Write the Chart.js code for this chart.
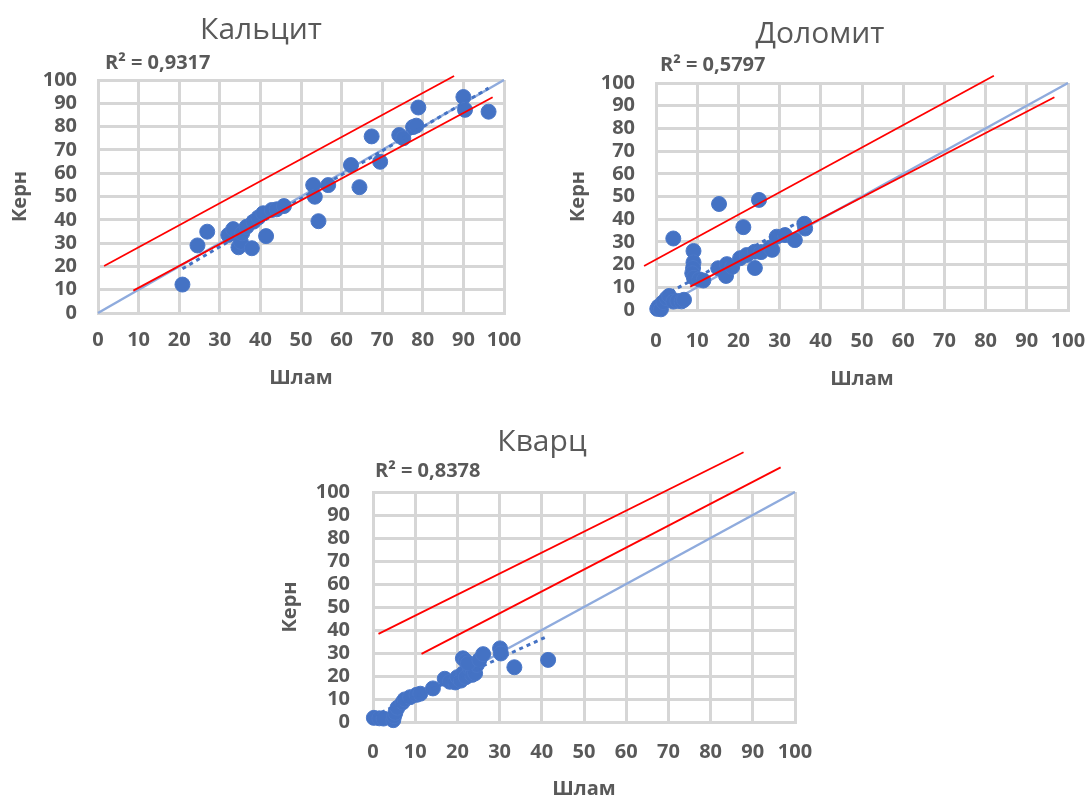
<!DOCTYPE html>
<html lang="ru">
<head>
<meta charset="utf-8">
<title>Керн и шлам: кальцит, доломит, кварц</title>
<script src="https://cdn.jsdelivr.net/npm/chart.js@4.4.1/dist/chart.umd.min.js"></script>
<style>
  html, body { margin: 0; padding: 0; background: #ffffff; width: 1089px; height: 798px; overflow: hidden; }
  canvas.panel { position: absolute; }
</style>
</head>
<body>
<canvas id="calcite" class="panel"></canvas>
<canvas id="dolomite" class="panel"></canvas>
<canvas id="quartz" class="panel"></canvas>
<script>
// ---- Axis ticks (both axes, percent) ----
const tickValues = [0, 10, 20, 30, 40, 50, 60, 70, 80, 90, 100];

// ---- Кальцит ----
const calciteShlam = [20.8, 24.5, 26.9, 32.1, 33.3, 34.6, 35.2, 35.5, 36.6, 37.9, 38.3, 39.5, 40.7, 41.4, 42.8, 44.0, 45.8,
                      53.0, 53.4, 54.3, 56.7, 62.3, 64.4, 67.4, 69.5, 74.2, 75.2, 77.6, 78.4, 78.9, 90.0, 90.4, 96.2];
const calciteKern  = [12.2, 29.0, 34.9, 33.5, 36.0, 28.2, 30.5, 34.2, 37.0, 27.8, 39.2, 41.0, 42.8, 33.0, 44.2, 44.5, 45.9,
                      54.9, 49.9, 39.4, 54.9, 63.5, 54.0, 75.8, 64.9, 76.4, 75.0, 79.8, 80.4, 88.2, 92.7, 87.2, 86.4];
const calciteR2 = 0.9317;
const calciteTrendX = [20.8, 96.2];
const calciteTrendY = [19.0, 96.5];
const calciteUpperX = [1.5, 87.7];
const calciteUpperY = [20.2, 101.7];
const calciteLowerX = [8.7, 97.2];
const calciteLowerY = [9.6, 92.6];

// ---- Доломит ----
const dolomiteShlam = [0.3, 0.6, 1.2, 1.8, 2.6, 3.2, 4.2, 5.2, 6.2, 6.8, 4.2, 9.1, 9.1, 9.0, 8.8, 9.2, 10.5, 11.5,
                       15.3, 25.0, 21.2, 15.1, 17.2, 17.0, 18.5, 20.4, 22.0, 24.0, 24.0, 25.5, 27.7, 28.2, 29.3, 31.3, 33.7, 36.2, 36.0];
const dolomiteKern  = [0.5, 1.5, 0.3, 3.5, 5.2, 6.2, 3.7, 4.0, 3.8, 4.5, 31.5, 26.0, 21.0, 18.5, 16.2, 14.2, 13.5, 13.0,
                       46.7, 48.5, 36.5, 18.4, 20.2, 15.0, 19.0, 22.8, 24.2, 25.7, 18.5, 25.5, 27.5, 26.5, 32.3, 33.0, 30.8, 35.9, 38.0];
const dolomiteR2 = 0.5797;
const dolomiteTrendX = [0.2, 36.2];
const dolomiteTrendY = [4.7, 40.3];
const dolomiteUpperX = [-2.9, 82.0];
const dolomiteUpperY = [19.4, 103.2];
const dolomiteLowerX = [8.3, 96.7];
const dolomiteLowerY = [10.3, 93.7];

// ---- Кварц ----
const quartzShlam = [0.2, 1.5, 2.5, 4.8, 5.0, 5.3, 5.8, 7.0, 7.5, 8.8, 10.3, 11.2, 14.2, 17.0, 18.2, 19.5, 20.0, 20.8, 21.4, 22.0,
                     21.3, 22.0, 23.0, 23.5, 24.2, 24.6, 22.5, 25.2, 26.1, 30.1, 30.3, 33.5, 41.5];
const quartzKern  = [1.8, 1.6, 1.5, 0.8, 2.5, 4.0, 6.2, 8.5, 9.8, 10.8, 11.8, 12.3, 14.6, 18.8, 17.5, 17.2, 19.5, 18.0, 21.2, 19.5,
                     27.7, 26.5, 23.3, 20.5, 21.2, 24.8, 25.5, 27.0, 29.5, 32.0, 29.8, 23.8, 27.0];
const quartzR2 = 0.8378;
const quartzTrendX = [0.2, 41.5];
const quartzTrendY = [2.7, 37.4];
const quartzUpperX = [1.3, 87.8];
const quartzUpperY = [38.3, 117.3];
const quartzLowerX = [11.5, 96.6];
const quartzLowerY = [29.6, 110.7];

// Reference line Керн = Шлам
const identityX = [0, 100];
const identityY = [0, 100];

// ---- Panel placement on the page (pixels) ----
const panels = [
  { id: 'calcite', title: 'Кальцит', r2: calciteR2,
    shlam: calciteShlam, kern: calciteKern,
    trend: [calciteTrendX, calciteTrendY], upper: [calciteUpperX, calciteUpperY], lower: [calciteLowerX, calciteLowerY],
    box: { left: 0, top: 0, width: 522, height: 400 },
    area: { left: 98, top: 80, right: 504, bottom: 313 },
    titleBase: 39, r2Pos: { x: 105, y: 63 },
    yTickPad: 21, yTitlePad: 8, xTickPad: 15, xTitlePad: 10 },
  { id: 'dolomite', title: 'Доломит', r2: dolomiteR2,
    shlam: dolomiteShlam, kern: dolomiteKern,
    trend: [dolomiteTrendX, dolomiteTrendY], upper: [dolomiteUpperX, dolomiteUpperY], lower: [dolomiteLowerX, dolomiteLowerY],
    box: { left: 555, top: 0, width: 530, height: 400 },
    area: { left: 656, top: 83, right: 1068, bottom: 310 },
    titleBase: 43, r2Pos: { x: 660, y: 65 },
    yTickPad: 21, yTitlePad: 11, xTickPad: 19, xTitlePad: 9 },
  { id: 'quartz', title: 'Кварц', r2: quartzR2,
    shlam: quartzShlam, kern: quartzKern,
    trend: [quartzTrendX, quartzTrendY], upper: [quartzUpperX, quartzUpperY], lower: [quartzLowerX, quartzLowerY],
    box: { left: 270, top: 410, width: 544, height: 400 },
    area: { left: 373, top: 492, right: 795, bottom: 722 },
    titleBase: 451, r2Pos: { x: 375, y: 471 },
    yTickPad: 23, yTitlePad: 8, xTickPad: 18, xTitlePad: 9 }
];

const TEXT = '#595959';
const GRID = '#d6d6d6';
const FONT = '"Open Sans", "Liberation Sans", sans-serif';

Chart.defaults.font.family = FONT;
Chart.defaults.color = TEXT;

const toPoints = (xs, ys) => xs.map((x, i) => ({ x: x, y: ys[i] }));
const formatR2 = (v) => 'R² = ' + v.toFixed(4).replace('.', ',');

// Title and R² caption, placed in page coordinates
const panelText = {
  id: 'panelText',
  afterDraw(chart, args, opts) {
    const ctx = chart.ctx;
    const p = opts.panel;
    ctx.save();
    ctx.fillStyle = TEXT;
    ctx.font = '30px ' + FONT;
    ctx.textAlign = 'center';
    ctx.textBaseline = 'alphabetic';
    ctx.fillText(p.title, chart.width / 2, p.titleBase - p.box.top);
    ctx.font = 'bold 20px ' + FONT;
    ctx.textAlign = 'left';
    ctx.textBaseline = 'middle';
    ctx.fillText(formatR2(p.r2), p.r2Pos.x - p.box.left, p.r2Pos.y - p.box.top);
    ctx.restore();
  }
};

panels.forEach((p) => {
  const canvas = document.getElementById(p.id);
  canvas.width = p.box.width;
  canvas.height = p.box.height;
  canvas.style.left = p.box.left + 'px';
  canvas.style.top = p.box.top + 'px';
  canvas.style.width = p.box.width + 'px';
  canvas.style.height = p.box.height + 'px';

  const yAxisWidth = p.area.left - p.box.left;
  const xAxisHeight = p.box.top + p.box.height - p.area.bottom;

  const tickFont = { size: 20, weight: 'bold' };
  const titleFont = { size: 20, weight: 'bold' };

  new Chart(canvas, {
    type: 'scatter',
    data: {
      datasets: [
        { label: 'верхняя граница', data: toPoints(p.upper[0], p.upper[1]), showLine: true,
          borderColor: '#ff0000', borderWidth: 1.8, pointRadius: 0, clip: false },
        { label: 'нижняя граница', data: toPoints(p.lower[0], p.lower[1]), showLine: true,
          borderColor: '#ff0000', borderWidth: 1.8, pointRadius: 0, clip: false },
        { label: 'Линейная (Керн)', data: toPoints(p.trend[0], p.trend[1]), showLine: true,
          borderColor: '#4472c4', borderWidth: 3, borderDash: [4, 4], pointRadius: 0, clip: false },
        { label: 'Керн', data: toPoints(p.shlam, p.kern), showLine: false,
          backgroundColor: '#4472c4', borderColor: '#4a77c8', borderWidth: 1, pointRadius: 7.5, clip: false },
        { label: 'Керн = Шлам', data: toPoints(identityX, identityY), showLine: true,
          borderColor: '#8fabdd', borderWidth: 2.5, pointRadius: 0, clip: false }
      ]
    },
    options: {
      responsive: false,
      animation: false,
      events: [],
      layout: {
        autoPadding: false,
        padding: {
          left: 0,
          top: p.area.top - p.box.top,
          right: p.box.left + p.box.width - p.area.right,
          bottom: 0
        }
      },
      plugins: {
        legend: { display: false },
        tooltip: { enabled: false },
        title: { display: false },
        panelText: { panel: p }
      },
      scales: {
        x: {
          type: 'linear', min: 0, max: 100,
          afterBuildTicks: (s) => { s.ticks = tickValues.map((v) => ({ value: v })); },
          afterFit: (s) => { s.height = xAxisHeight; s.paddingLeft = 0; s.paddingRight = 0; },
          ticks: { padding: p.xTickPad, font: tickFont, color: TEXT, maxRotation: 0, autoSkip: false },
          grid: { color: GRID, lineWidth: 3, drawTicks: false },
          border: { color: GRID, width: 3 },
          title: { display: true, text: 'Шлам', font: titleFont, color: TEXT, padding: { top: 0, bottom: p.xTitlePad } }
        },
        y: {
          type: 'linear', min: 0, max: 100,
          afterBuildTicks: (s) => { s.ticks = tickValues.map((v) => ({ value: v })); },
          afterFit: (s) => { s.width = yAxisWidth; s.paddingTop = 0; s.paddingBottom = 0; },
          ticks: { padding: p.yTickPad, font: tickFont, color: TEXT, autoSkip: false },
          grid: { color: GRID, lineWidth: 3, drawTicks: false },
          border: { color: GRID, width: 3 },
          title: { display: true, text: 'Керн', font: titleFont, color: TEXT, padding: { top: p.yTitlePad, bottom: 0 } }
        }
      }
    },
    plugins: [panelText]
  });
});
</script>
</body>
</html>
